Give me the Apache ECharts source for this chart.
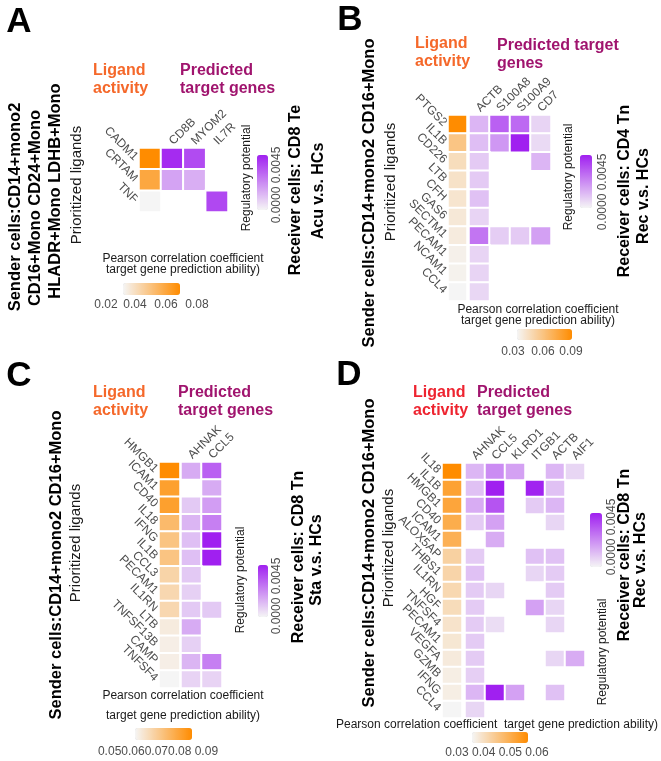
<!DOCTYPE html>
<html><head><meta charset="utf-8">
<script src="https://cdn.jsdelivr.net/npm/echarts@6/dist/echarts.min.js"></script>
<style>html,body{margin:0;padding:0;background:#fff}#c{width:661px;height:761px}</style>
</head><body><div id="c"></div>
<script>
// ---------- DATA ----------
// Panel A
const aLigands = ['CADM1','CRTAM','TNF'];
const aTargets = ['CD8B','MYOM2','IL7R'];
const aActivity = [0.070, 0.058, 0.024];
const aPotential = [
  [0.0071, 0.0060, null],
  [0.0029, 0.0025, null],
  [null,   null,   0.0061]
];
const aActTicks = ['0.02','0.04','0.06','0.08'];

// Panel B
const bLigands = ['PTGS2','IL1B','CD226','LTB','CFH','GAS6','SECTM1','PECAM1','NCAM1','CCL4'];
const bTargets = ['ACTB','S100A8','S100A9','CD7'];
const bActivity = [0.095, 0.060, 0.045, 0.042, 0.040, 0.038, 0.036, 0.033, 0.032, 0.030];
const bPotential = [
  [0.0021, 0.0049, 0.0046, 0.0011],
  [0.0018, 0.0031, 0.0070, 0.0009],
  [0.0014, null,   null,   0.0021],
  [0.0014, null,   null,   null],
  [0.0017, null,   null,   null],
  [0.0011, null,   null,   null],
  [0.0042, 0.0013, 0.0014, 0.0028],
  [0.0011, null,   null,   null],
  [0.0011, null,   null,   null],
  [0.0010, null,   null,   null]
];
const bActTicks = ['0.03','0.06','0.09'];

// Panel C
const cLigands = ['HMGB1','ICAM1','CD40','IL18','IFNG','IL1B','CCL3','PECAM1','IL1RN','LTB','TNFSF13B','CAMP','TNFSF4'];
const cTargets = ['AHNAK','CCL5'];
const cActivity = [0.083, 0.077, 0.077, 0.069, 0.066, 0.066, 0.061, 0.060, 0.060, 0.054, 0.053, 0.053, 0.051];
const cPotential = [
  [0.0022, 0.0044],
  [null,   0.0022],
  [0.0013, 0.0026],
  [0.0019, 0.0035],
  [0.0016, 0.0063],
  [0.0016, 0.0063],
  [0.0013, null],
  [0.0011, null],
  [0.0013, 0.0013],
  [0.0022, null],
  [0.0011, null],
  [0.0019, 0.0035],
  [0.0010, 0.0010]
];
const cActTicks = ['0.050.060.070.08 0.09'];

// Panel D
const dLigands = ['IL18','IL1B','HMGB1','CD40','ICAM1','ALOX5AP','THBS1','IL1RN','HGF','TNFSF4','PECAM1','VEGFA','GZMB','IFNG','CCL4'];
const dTargets = ['AHNAK','CCL5','KLRD1','ITGB1','ACTB','AIF1'];
const dActivity = [0.057, 0.051, 0.050, 0.048, 0.047, 0.038, 0.037, 0.036, 0.035, 0.033, 0.032, 0.031, 0.030, 0.030, 0.028];
const dPotential = [
  [0.0018, 0.0030, 0.0024, null,   0.0018, 0.0009],
  [0.0015, 0.0061, null,   0.0060, 0.0015, null],
  [0.0021, 0.0046, null,   0.0012, 0.0018, null],
  [0.0012, 0.0024, null,   null,   0.0009, null],
  [null,   0.0021, null,   null,   null,   null],
  [0.0012, null,   null,   0.0015, 0.0015, null],
  [0.0015, null,   null,   0.0009, 0.0012, null],
  [0.0012, 0.0009, null,   null,   0.0012, null],
  [0.0012, null,   null,   0.0024, 0.0009, null],
  [0.0012, 0.0007, null,   null,   0.0009, null],
  [0.0012, null,   null,   null,   null,   null],
  [0.0012, null,   null,   null,   0.0009, 0.0021],
  [0.0011, null,   null,   null,   null,   null],
  [0.0018, 0.0061, 0.0024, null,   0.0015, null],
  [0.0009, null,   null,   null,   null,   null]
];
const dActTicks = ['0.03 0.04 0.05 0.06'];

// ---------- LAYOUT ----------
const FONT = '"Liberation Sans", Arial, Helvetica, sans-serif';
const ORANGE = ['#F5F5F5', '#FF8C00'];
const PURPLE = ['#F5F5F5', '#A020F0'];

const panels = [
  { lig: aLigands, tgt: aTargets, act: aActivity, pot: aPotential,
    ligGrid: {left: 139, top: 148, width: 22, height: 64},
    tgtGrid: {left: 161, top: 148, width: 67, height: 64},
    actMin: 0.024, actMax: 0.070, potMax: 0.0075,
    oBar: {left: 123, top: 283, len: 57, th: 12},
    pBar: {left: 257, top: 155, len: 55, th: 11} },
  { lig: bLigands, tgt: bTargets, act: bActivity, pot: bPotential,
    ligGrid: {left: 448, top: 115, width: 19, height: 186},
    tgtGrid: {left: 469, top: 115, width: 82, height: 186},
    actMin: 0.030, actMax: 0.095, potMax: 0.0070,
    oBar: {left: 517, top: 329, len: 55, th: 11},
    pBar: {left: 580, top: 155, len: 53, th: 12} },
  { lig: cLigands, tgt: cTargets, act: cActivity, pot: cPotential,
    ligGrid: {left: 159, top: 462, width: 21, height: 226},
    tgtGrid: {left: 181, top: 462, width: 41, height: 226},
    actMin: 0.051, actMax: 0.083, potMax: 0.0063,
    oBar: {left: 135, top: 728, len: 57, th: 12},
    pBar: {left: 258, top: 565, len: 52, th: 10} },
  { lig: dLigands, tgt: dTargets, act: dActivity, pot: dPotential,
    ligGrid: {left: 442, top: 463, width: 20, height: 255},
    tgtGrid: {left: 465, top: 463, width: 120, height: 255},
    actMin: 0.028, actMax: 0.057, potMax: 0.0061,
    oBar: {left: 472, top: 732, len: 56, th: 11},
    pBar: {left: 590, top: 513, len: 54, th: 12} }
];

const grids = [], xAxes = [], yAxes = [], series = [], visualMaps = [];
const labelStyle = {fontSize: 12, color: '#4d4d4d', fontFamily: FONT, interval: 0};
panels.forEach((p, i) => {
  const gL = 2 * i, gT = 2 * i + 1;
  grids.push(Object.assign({}, p.ligGrid));
  grids.push(Object.assign({}, p.tgtGrid));
  xAxes.push({gridIndex: gL, type: 'category', data: ['activity'], show: false});
  xAxes.push({gridIndex: gT, type: 'category', data: p.tgt, position: 'top',
    axisLine: {show: false}, axisTick: {show: false}, splitLine: {show: false},
    axisLabel: {show: false}});
  yAxes.push({gridIndex: gL, type: 'category', data: p.lig, inverse: true,
    axisLine: {show: false}, axisTick: {show: false}, splitLine: {show: false},
    axisLabel: Object.assign({rotate: -45, margin: 3}, labelStyle)});
  yAxes.push({gridIndex: gT, type: 'category', data: p.lig, inverse: true, show: false});
  series.push({type: 'heatmap', xAxisIndex: gL, yAxisIndex: gL, silent: true,
    data: p.act.map((v, r) => [0, r, v]),
    itemStyle: {borderColor: '#ffffff', borderWidth: 2}});
  const d = [];
  p.pot.forEach((row, r) => row.forEach((v, c) => { if (v != null) d.push([c, r, v]); }));
  series.push({type: 'heatmap', xAxisIndex: gT, yAxisIndex: gT, silent: true, data: d,
    itemStyle: {borderColor: '#ffffff', borderWidth: 2}});
  visualMaps.push({type: 'continuous', seriesIndex: gL, min: p.actMin, max: p.actMax,
    orient: 'horizontal', left: p.oBar.left, top: p.oBar.top, padding: 0,
    itemWidth: p.oBar.th, itemHeight: p.oBar.len, calculable: false, hoverLink: false,
    inRange: {color: ORANGE}});
  visualMaps.push({type: 'continuous', seriesIndex: gT, min: 0, max: p.potMax,
    orient: 'vertical', left: p.pBar.left, top: p.pBar.top, padding: 0,
    itemWidth: p.pBar.th, itemHeight: p.pBar.len, calculable: false, hoverLink: false,
    inRange: {color: PURPLE}});
});

// ---------- TEXT ----------
const G = [];
function txt(s, x, y, o) {
  o = o || {};
  G.push({type: 'text', x: x, y: y, rotation: o.rot || 0, silent: true,
    style: {text: s, fill: o.color || '#111', align: o.align || 'center',
      verticalAlign: o.va || 'middle', lineHeight: o.lh,
      font: (o.weight || 'normal') + ' ' + (o.size || 12) + 'px ' + FONT}});
}
const V = Math.PI / 2;
const LIG_O = '#F5682A', LIG_R = '#EE2430', PRED = '#A0146E';
const bold16 = (c) => ({weight: 'bold', size: 16, color: c, align: 'left', va: 'top', lh: 18});

// Panel letters
txt('A', 19, 22, {weight: 'bold', size: 35, color: '#000'});
txt('B', 350, 20, {weight: 'bold', size: 35, color: '#000'});
txt('C', 19, 376, {weight: 'bold', size: 35, color: '#000'});
txt('D', 349, 375, {weight: 'bold', size: 35, color: '#000'});

// Panel A
txt('Ligand\nactivity', 93, 62, bold16(LIG_O));
txt('Predicted\ntarget genes', 180, 62, bold16(PRED));
txt('Sender cells:CD14+mono2', 15, 207, {rot: V, weight: 'bold', size: 16.5, color: '#000'});
txt('CD16+Mono CD24+Mono', 35, 208, {rot: V, weight: 'bold', size: 16.5, color: '#000'});
txt('HLADR+Mono LDHB+Mono', 55, 191, {rot: V, weight: 'bold', size: 16.5, color: '#000'});
txt('Prioritized ligands', 77, 185, {rot: V, size: 15, color: '#1a1a1a'});
txt('Receiver cells: CD8 Te', 296, 190, {rot: V, weight: 'bold', size: 16, color: '#000'});
txt('Acu v.s. HCs', 319, 191, {rot: V, weight: 'bold', size: 16, color: '#000'});
txt('Regulatory potential', 247, 178, {rot: V, size: 12, color: '#1a1a1a'});
txt('0.0000 0.0045', 277, 185, {rot: V, size: 12, color: '#4d4d4d'});
txt('Pearson correlation coefficient\ntarget gene prediction ability)', 183, 264, {size: 12, lh: 11, color: '#1a1a1a'});
[106, 135, 166, 197].forEach((x, k) => txt(aActTicks[k], x, 305, {size: 12, color: '#4d4d4d'}));

// Panel B
txt('Ligand\nactivity', 415, 35, bold16(LIG_O));
txt('Predicted target\ngenes', 497, 37, bold16(PRED));
txt('Sender cells:CD14+mono2 CD16+Mono', 369, 193, {rot: V, weight: 'bold', size: 16.5, color: '#000'});
txt('Prioritized ligands', 391, 182, {rot: V, size: 15, color: '#1a1a1a'});
txt('Receiver cells: CD4 Tn', 625, 191, {rot: V, weight: 'bold', size: 16, color: '#000'});
txt('Rec v.s. HCs', 644, 196, {rot: V, weight: 'bold', size: 16, color: '#000'});
txt('Regulatory potential', 569, 177, {rot: V, size: 12, color: '#1a1a1a'});
txt('0.0000 0.0045', 603, 192, {rot: V, size: 12, color: '#4d4d4d'});
txt('Pearson correlation coefficient\ntarget gene prediction ability)', 538, 315, {size: 12, lh: 10.5, color: '#1a1a1a'});
[513, 543, 571].forEach((x, k) => txt(bActTicks[k], x, 352, {size: 12, color: '#4d4d4d'}));

// Panel C
txt('Ligand\nactivity', 93, 384, bold16(LIG_O));
txt('Predicted\ntarget genes', 178, 384, bold16(PRED));
txt('Sender cells:CD14+mono2 CD16+Mono', 56, 565, {rot: V, weight: 'bold', size: 16.5, color: '#000'});
txt('Prioritized ligands', 76, 543, {rot: V, size: 15, color: '#1a1a1a'});
txt('Receiver cells: CD8 Tn', 299, 557, {rot: V, weight: 'bold', size: 16, color: '#000'});
txt('Sta v.s. HCs', 317, 560, {rot: V, weight: 'bold', size: 16, color: '#000'});
txt('Regulatory potential', 241, 580, {rot: V, size: 12, color: '#1a1a1a'});
txt('0.0000 0.0045', 277, 596, {rot: V, size: 12, color: '#4d4d4d'});
txt('Pearson correlation coefficient\ntarget gene prediction ability)', 183, 706, {size: 12, lh: 20, color: '#1a1a1a'});
txt(cActTicks[0], 158, 752, {size: 12, color: '#4d4d4d'});

// Panel D
txt('Ligand\nactivity', 413, 384, bold16(LIG_R));
txt('Predicted\ntarget genes', 477, 384, bold16(PRED));
txt('Sender cells:CD14+mono2 CD16+Mono', 369, 553, {rot: V, weight: 'bold', size: 16.5, color: '#000'});
txt('Prioritized ligands', 389, 548, {rot: V, size: 15, color: '#1a1a1a'});
txt('Receiver cells: CD8 Tn', 625, 555, {rot: V, weight: 'bold', size: 16, color: '#000'});
txt('Rec v.s. HCs', 641, 560, {rot: V, weight: 'bold', size: 16, color: '#000'});
txt('Regulatory potential', 603, 652, {rot: V, size: 12, color: '#1a1a1a'});
txt('0.0000 0.0045', 612, 537, {rot: V, size: 12, color: '#4d4d4d'});
txt('Pearson correlation coefficient  target gene prediction ability)', 497, 725, {size: 12, color: '#1a1a1a'});
txt(dActTicks[0], 497, 753, {size: 12, color: '#4d4d4d'});

const chart = echarts.init(document.getElementById('c'), null, {renderer: 'canvas'});
chart.setOption({
  animation: false,
  backgroundColor: '#ffffff',
  grid: grids, xAxis: xAxes, yAxis: yAxes,
  visualMap: visualMaps, series: series, graphic: G
});

// Target-gene column labels, anchored at each category position from the x axis scale
panels.forEach((p, i) => {
  const gT = 2 * i + 1;
  const topY = chart.convertToPixel({yAxisIndex: gT}, p.lig[0]) -
    (chart.convertToPixel({yAxisIndex: gT}, p.lig[1]) - chart.convertToPixel({yAxisIndex: gT}, p.lig[0])) / 2;
  p.tgt.forEach((name) => {
    const x = chart.convertToPixel({xAxisIndex: gT}, name);
    G.push({type: 'text', x: x - 1, y: topY - 5, rotation: Math.PI / 4, silent: true,
      style: {text: name, align: 'left', verticalAlign: 'middle', fill: '#4d4d4d',
        font: '12px ' + FONT}});
  });
});
chart.setOption({graphic: G});
</script></body></html>
